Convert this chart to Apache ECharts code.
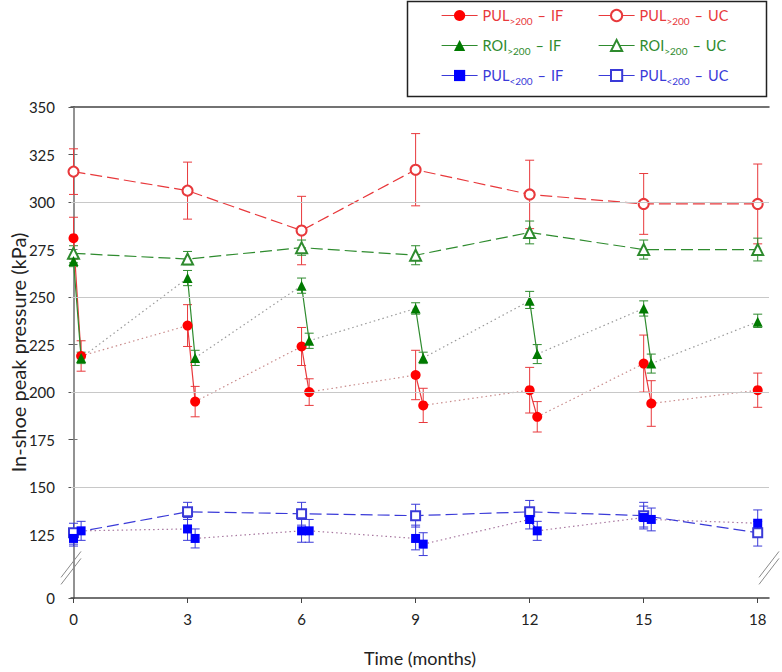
<!DOCTYPE html>
<html>
<head>
<meta charset="utf-8">
<script src="https://cdn.jsdelivr.net/npm/echarts@6/dist/echarts.min.js"></script>
<style>
html,body{margin:0;padding:0;background:#fff;}
#chart{width:782px;height:672px;}
</style>
</head>
<body>
<div id="chart"></div>
<script>
// ---------- data ----------
const MONTHS = [0, 3, 6, 9, 12, 15, 18];
const AFTER_SHIFT = 0.2; // "after" measurement plotted just after each visit
const X_TICKS = [0, 3, 6, 9, 12, 15, 18];
const Y_TICKS = [125, 150, 175, 200, 225, 250, 275, 300, 325, 350];
const Y_BREAK_LABEL = '0';
const GRID_VALUES = [150, 200, 250, 300];

// PUL>200 – IF (visit / after visit), error bars [low, high]
const PUL_GT_IF_BEFORE = [281, 235, 224, 209, 201, 215, 201];
const PUL_GT_IF_BEFORE_LO = [270, 224, 214, 196, 189, 200, 192];
const PUL_GT_IF_BEFORE_HI = [292, 246, 234, 222, 213, 230, 210];
const PUL_GT_IF_AFTER = [219, 195, 200, 193, 187, 194];
const PUL_GT_IF_AFTER_LO = [211, 187, 193, 184, 179, 182];
const PUL_GT_IF_AFTER_HI = [227, 203, 207, 202, 195, 206];

// PUL>200 – UC
const PUL_GT_UC = [316, 306, 285, 317, 304, 299, 299];
const PUL_GT_UC_LO = [304, 291, 267, 298, 286, 283, 278];
const PUL_GT_UC_HI = [328, 321, 303, 336, 322, 315, 320];

// ROI>200 – IF
const ROI_IF_BEFORE = [269, 260, 256, 244, 248, 244, 237];
const ROI_IF_BEFORE_LO = [266, 256, 252, 241, 244, 240, 234];
const ROI_IF_BEFORE_HI = [272, 264, 260, 247, 253, 248, 241];
const ROI_IF_AFTER = [218, 218, 227, 218, 220, 215];
const ROI_IF_AFTER_LO = [215, 214, 223, 215, 215, 210];
const ROI_IF_AFTER_HI = [221, 222, 231, 221, 225, 220];

// ROI>200 – UC
const ROI_UC = [273, 270, 276, 272, 284, 275, 275];
const ROI_UC_LO = [268, 267, 272, 267, 278, 270, 269];
const ROI_UC_HI = [277, 274, 280, 277, 290, 280, 281];

// PUL<200 – IF
const PUL_LT_IF_BEFORE = [123, 128, 127, 123, 133, 134, 131];
const PUL_LT_IF_BEFORE_LO = [119, 122, 121, 117, 128, 129, 124];
const PUL_LT_IF_BEFORE_HI = [128, 134, 133, 130, 137, 140, 138];
const PUL_LT_IF_AFTER = [127, 123, 127, 120, 127, 133];
const PUL_LT_IF_AFTER_LO = [122, 118, 121, 114, 122, 127];
const PUL_LT_IF_AFTER_HI = [132, 128, 133, 126, 132, 139];

// PUL<200 – UC
const PUL_LT_UC = [126, 137, 136, 135, 137, 135, 126];
const PUL_LT_UC_LO = [120, 133, 130, 129, 131, 128, 119];
const PUL_LT_UC_HI = [131, 142, 142, 141, 143, 142, 132];

const NAMES = ['PUL_GT_IF', 'PUL_GT_UC', 'ROI_IF', 'ROI_UC', 'PUL_LT_IF', 'PUL_LT_UC'];
const LABEL_MAIN = ['PUL', 'PUL', 'ROI', 'ROI', 'PUL', 'PUL'];
const LABEL_SUB = ['>200', '>200', '>200', '>200', '<200', '<200'];
const LABEL_GROUP = ['IF', 'UC', 'IF', 'UC', 'IF', 'UC'];

// ---------- layout / style ----------
const FONT = 'Lato, "Open Sans", sans-serif';
const RED = '#ff0000', RED_L = '#e8393c', RED_DOT = '#c98c8c';
const GREEN = '#007a00', GREEN_L = '#2e8b2e', GREEN_DOT = '#9a9a9a';
const BLUE = '#0000ff', BLUE_L = '#3a3ad8', BLUE_DOT = '#a878a0';
const Y_MIN = 125 - 64 / 1.92; // broken axis: bottom label "0"
const Y_MAX = 350;
const X_MIN = -0.066, X_MAX = 18.297;

function pairData(before, after) {
  const d = [];
  MONTHS.forEach((m, i) => {
    d.push([m, before[i]]);
    if (i < after.length) d.push([m + AFTER_SHIFT, after[i]]);
    d.push([m + AFTER_SHIFT + 0.05, '-']);
  });
  return d;
}
function dotData(before, after) {
  const d = [];
  after.forEach((v, i) => {
    d.push([MONTHS[i] + AFTER_SHIFT, v]);
    d.push([MONTHS[i + 1], before[i + 1]]);
    d.push([MONTHS[i + 1] + 0.01, '-']);
  });
  return d;
}
function errData(lo, hi, shift) {
  return lo.map((l, i) => [MONTHS[i] + shift, l, hi[i]]);
}
function simpleData(vals) { return vals.map((v, i) => [MONTHS[i], v]); }

function errSeries(id, data, color) {
  return {
    type: 'custom', name: id, z: 2, silent: true,
    encode: { x: 0, y: [1, 2] },
    data: data,
    renderItem: function (params, api) {
      const x = api.value(0);
      const a = api.coord([x, api.value(1)]);
      const b = api.coord([x, api.value(2)]);
      const w = 4.5;
      const st = { stroke: color, lineWidth: 1 };
      return {
        type: 'group', children: [
          { type: 'line', shape: { x1: a[0], y1: a[1], x2: b[0], y2: b[1] }, style: st },
          { type: 'line', shape: { x1: a[0] - w, y1: a[1], x2: a[0] + w, y2: a[1] }, style: st },
          { type: 'line', shape: { x1: b[0] - w, y1: b[1], x2: b[0] + w, y2: b[1] }, style: st }
        ]
      };
    }
  };
}
function ifSeries(name, before, after, symbol, size, color, lineColor) {
  return {
    type: 'line', name: name, z: 4, data: pairData(before, after),
    symbol: symbol, symbolSize: size, showAllSymbol: true, connectNulls: false,
    itemStyle: { color: color, borderWidth: 0 },
    lineStyle: { color: lineColor, width: 1.2, type: 'solid' },
    animation: false
  };
}
function dotSeries(id, before, after, color) {
  return {
    type: 'line', name: id, z: 3, data: dotData(before, after), symbol: 'none',
    connectNulls: false, silent: true,
    lineStyle: { color: color, width: 1.2, type: [1.5, 3] }, animation: false
  };
}
function ucSeries(name, vals, symbol, size, color) {
  return {
    type: 'line', name: name, z: 4, data: simpleData(vals),
    symbol: symbol, symbolSize: size, showAllSymbol: true,
    itemStyle: { color: color, borderColor: color, borderWidth: 1.2 },
    lineStyle: { color: color, width: 1.2, type: [12, 5] }, animation: false
  };
}

const series = [
  {
    type: 'line', name: 'grid', data: [], silent: true, z: 1,
    markLine: {
      silent: true, symbol: ['none', 'none'], label: { show: false },
      lineStyle: { color: '#c8c8c8', width: 1, type: 'solid' },
      data: GRID_VALUES.map(v => ({ yAxis: v }))
    }
  },
  errSeries('e1', errData(PUL_GT_UC_LO, PUL_GT_UC_HI, 0), RED_L),
  errSeries('e2', errData(ROI_UC_LO, ROI_UC_HI, 0), GREEN_L),
  errSeries('e3', errData(PUL_LT_UC_LO, PUL_LT_UC_HI, 0), BLUE_L),
  errSeries('e4', errData(PUL_GT_IF_BEFORE_LO, PUL_GT_IF_BEFORE_HI, 0), RED_L),
  errSeries('e5', errData(PUL_GT_IF_AFTER_LO, PUL_GT_IF_AFTER_HI, AFTER_SHIFT), RED_L),
  errSeries('e6', errData(ROI_IF_BEFORE_LO, ROI_IF_BEFORE_HI, 0), GREEN_L),
  errSeries('e7', errData(ROI_IF_AFTER_LO, ROI_IF_AFTER_HI, AFTER_SHIFT), GREEN_L),
  errSeries('e8', errData(PUL_LT_IF_BEFORE_LO, PUL_LT_IF_BEFORE_HI, 0), BLUE_L),
  errSeries('e9', errData(PUL_LT_IF_AFTER_LO, PUL_LT_IF_AFTER_HI, AFTER_SHIFT), BLUE_L),
  dotSeries('d1', PUL_GT_IF_BEFORE, PUL_GT_IF_AFTER, RED_DOT),
  dotSeries('d2', ROI_IF_BEFORE, ROI_IF_AFTER, GREEN_DOT),
  dotSeries('d3', PUL_LT_IF_BEFORE, PUL_LT_IF_AFTER, BLUE_DOT),
  ucSeries('PUL_GT_UC', PUL_GT_UC, 'emptyCircle', 10, RED_L),
  ucSeries('ROI_UC', ROI_UC, 'emptyTriangle', 11, GREEN_L),
  ucSeries('PUL_LT_UC', PUL_LT_UC, 'emptyRect', 9, BLUE_L),
  ifSeries('PUL_GT_IF', PUL_GT_IF_BEFORE, PUL_GT_IF_AFTER, 'circle', 10, RED, RED_L),
  ifSeries('ROI_IF', ROI_IF_BEFORE, ROI_IF_AFTER, 'triangle', 10, GREEN, GREEN_L),
  ifSeries('PUL_LT_IF', PUL_LT_IF_BEFORE, PUL_LT_IF_AFTER, 'rect', 9, BLUE, BLUE_L)
];

const TEXT_COLORS = [RED_L, RED_L, GREEN_L, GREEN_L, BLUE_L, BLUE_L];
function legendItem(i) {
  return { name: NAMES[i], textStyle: { color: TEXT_COLORS[i] } };
}
const legendCommon = {
  orient: 'vertical', itemWidth: 36, itemHeight: 14, itemGap: 12.5,
  selectedMode: false, padding: 0,
  lineStyle: { type: 'solid', width: 1.2 },
  formatter: function (name) {
    const i = NAMES.indexOf(name);
    return '{a|' + LABEL_MAIN[i] + '}{s|' + LABEL_SUB[i] + '}{d|\u2013}{a|' + LABEL_GROUP[i] + '}';
  },
  textStyle: {
    fontFamily: FONT, fontSize: 14,
    rich: {
      a: { fontFamily: FONT, fontSize: 14.5, lineHeight: 20 },
      d: { fontFamily: FONT, fontSize: 14.5, lineHeight: 20, padding: [0, 5, 0, 5] },
      s: { fontFamily: FONT, fontSize: 10, lineHeight: 12, verticalAlign: 'bottom' }
    }
  }
};

const option = {
  backgroundColor: '#fff',
  animation: false,
  textStyle: { fontFamily: FONT },
  grid: { left: 70, right: 13, top: 107, bottom: 69, containLabel: false },
  legend: [
    Object.assign({}, legendCommon, { left: 441, top: 8, data: [0, 2, 4].map(legendItem) }),
    Object.assign({}, legendCommon, { left: 598, top: 8, data: [1, 3, 5].map(legendItem) })
  ],
  xAxis: [{
    type: 'value', min: X_MIN, max: X_MAX, position: 'bottom',
    name: 'Time (months)', nameLocation: 'middle', nameGap: 51, nameMoveOverlap: false,
    nameTextStyle: { fontFamily: FONT, fontSize: 18, color: '#222' },
    axisLine: { lineStyle: { color: '#444', width: 1.5 } },
    axisTick: { customValues: X_TICKS, length: 5, lineStyle: { color: '#444' } },
    axisLabel: { customValues: X_TICKS, fontFamily: FONT, fontSize: 15, color: '#222', margin: 13 },
    splitLine: { show: false }
  }, {
    type: 'value', min: X_MIN, max: X_MAX, position: 'top',
    axisLine: { show: true, lineStyle: { color: '#444', width: 1.5 } },
    axisTick: { show: false }, axisLabel: { show: false }, splitLine: { show: false }
  }],
  yAxis: [{
    type: 'value', min: Y_MIN, max: Y_MAX, position: 'left',
    name: 'In-shoe peak pressure (kPa)', nameLocation: 'middle', nameGap: 43, nameMoveOverlap: false,
    nameTextStyle: { fontFamily: FONT, fontSize: 20, color: '#222' },
    axisLine: { show: true, lineStyle: { color: '#555', width: 1.5 } },
    axisTick: { show: true, customValues: [Y_MIN].concat(Y_TICKS), length: 5, lineStyle: { color: '#555' } },
    axisLabel: {
      customValues: [Y_MIN].concat(Y_TICKS), fontFamily: FONT, fontSize: 15, color: '#222', margin: 16,
      formatter: function (v) { return Math.abs(v - Y_MIN) < 0.01 ? Y_BREAK_LABEL : String(Math.round(v)); }
    },
    splitLine: { show: false }
  }, {
    type: 'value', min: Y_MIN, max: Y_MAX, position: 'right',
    axisLine: { show: true, lineStyle: { color: '#999', width: 1.5 } },
    axisTick: { show: true, customValues: Y_TICKS, length: 4, lineStyle: { color: '#777' } },
    axisLabel: { show: false }, splitLine: { show: false }
  }],
  series: series
};

const chart = echarts.init(document.getElementById('chart'), null, { renderer: 'svg' });
chart.setOption(option);

// axis-break marks and legend frame
const BREAK_VALUE = 107.5;
const pL = chart.convertToPixel({ xAxisIndex: 0, yAxisIndex: 0 }, [X_MIN, BREAK_VALUE]);
const pR = chart.convertToPixel({ xAxisIndex: 0, yAxisIndex: 0 }, [X_MAX, BREAK_VALUE]);
function slashes(p) {
  const els = [];
  [-3.5, 3.5].forEach(off => {
    els.push({ type: 'line', shape: { x1: p[0] - 10, y1: p[1] + 13 + off, x2: p[0] + 10, y2: p[1] - 13 + off },
      style: { stroke: '#8a8a8a', lineWidth: 1 } });
  });
  return els;
}
chart.setOption({
  graphic: [
    { type: 'rect', shape: { x: 407.5, y: 1.5, width: 359, height: 95 },
      style: { fill: 'none', stroke: '#222', lineWidth: 1.5 }, z: 10 }
  ].concat(slashes(pL), slashes(pR))
});
</script>
</body>
</html>
